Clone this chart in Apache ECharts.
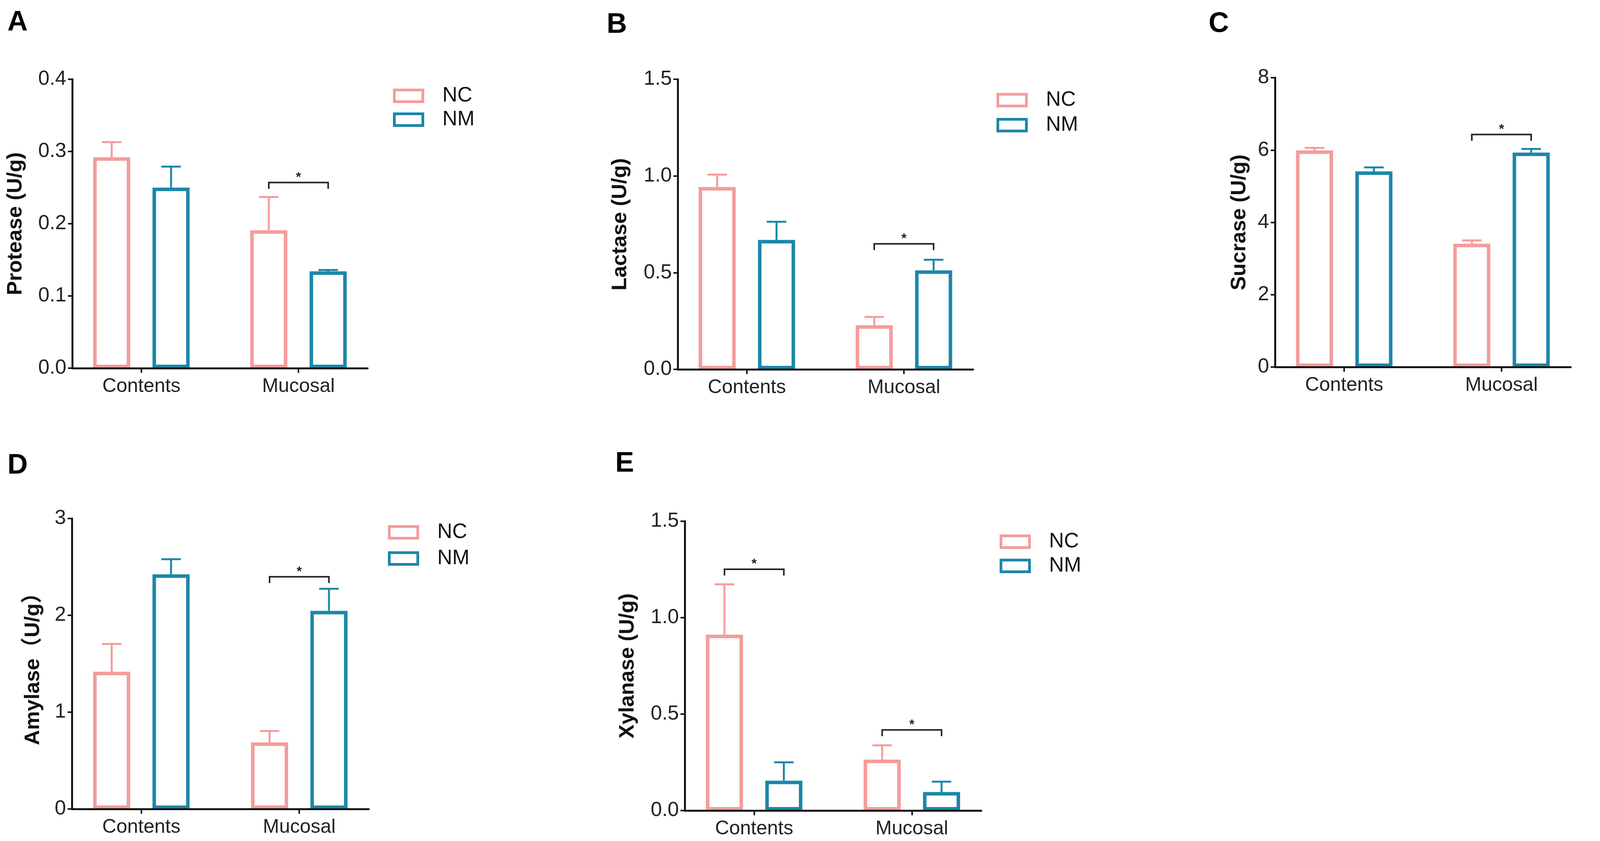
<!DOCTYPE html>
<html>
<head>
<meta charset="utf-8">
<script src="https://cdn.jsdelivr.net/npm/echarts@6/dist/echarts.min.js"></script>
<style>
html,body{margin:0;padding:0;background:#ffffff;}
#chart{width:4317px;height:2154px;}
</style>
</head>
<body>
<div id="chart"></div>
<script>
// ---------- data ----------
const categories = ['Contents', 'Mucosal'];
const groupNames = ['NC', 'NM'];
const panelLetters = ['A', 'B', 'C', 'D', 'E'];
const yTitles = ['Protease (U/g)', 'Lactase (U/g)', 'Sucrase (U/g)', 'Amylase\uFF08U/g\uFF09', 'Xylanase (U/g)'];
const yMax = [0.4, 1.5, 8, 3, 1.5];
const yInterval = [0.1, 0.5, 2, 1, 0.5];
const yDecimals = [1, 1, 0, 0, 1];

const proteaseNC = [0.292, 0.191];
const proteaseNCErr = [0.021, 0.046];
const proteaseNM = [0.250, 0.134];
const proteaseNMErr = [0.029, 0.002];

const lactaseNC = [0.943, 0.228];
const lactaseNCErr = [0.064, 0.043];
const lactaseNM = [0.669, 0.512];
const lactaseNMErr = [0.094, 0.055];

const sucraseNC = [5.99, 3.41];
const sucraseNCErr = [0.07, 0.09];
const sucraseNM = [5.41, 5.93];
const sucraseNMErr = [0.11, 0.10];

const amylaseNC = [1.417, 0.688];
const amylaseNCErr = [0.288, 0.117];
const amylaseNM = [2.423, 2.046];
const amylaseNMErr = [0.157, 0.228];

const xylanaseNC = [0.912, 0.264];
const xylanaseNCErr = [0.261, 0.074];
const xylanaseNM = [0.155, 0.096];
const xylanaseNMErr = [0.095, 0.054];

// significance brackets: [category index, bracket level in y units]
const proteaseSig = [[1, 0.257]];
const lactaseSig = [[1, 0.649]];
const sucraseSig = [[1, 6.43]];
const amylaseSig = [[1, 2.398]];
const xylanaseSig = [[0, 1.251], [1, 0.418]];

const panelData = [
  {nc: proteaseNC, ncErr: proteaseNCErr, nm: proteaseNM, nmErr: proteaseNMErr, sig: proteaseSig},
  {nc: lactaseNC, ncErr: lactaseNCErr, nm: lactaseNM, nmErr: lactaseNMErr, sig: lactaseSig},
  {nc: sucraseNC, ncErr: sucraseNCErr, nm: sucraseNM, nmErr: sucraseNMErr, sig: sucraseSig},
  {nc: amylaseNC, ncErr: amylaseNCErr, nm: amylaseNM, nmErr: amylaseNMErr, sig: amylaseSig},
  {nc: xylanaseNC, ncErr: xylanaseNCErr, nm: xylanaseNM, nmErr: xylanaseNMErr, sig: xylanaseSig}
];

// ---------- layout & style ----------
const FONT = 'Arial, "Liberation Sans", Helvetica, "Noto Sans CJK SC", sans-serif';
const PINK = '#F49C9C';
const TEAL = '#1C87A8';
const INK = '#151515';
const BAR_W = 95;
const BAR_GAP = '60%';
const HALF_SEP = 76;

const layout = [
  {left: 185, top: 203, width: 756, height: 740, lgLeft: 1001, lgTop: 214, lgGap: 8, ltX: 19, ltY: 22, nameGap: 118},
  {left: 1735, top: 203, width: 756, height: 743, lgLeft: 2546, lgTop: 225, lgGap: 11, ltX: 1553, ltY: 28, nameGap: 120},
  {left: 3264, top: 199, width: 757, height: 741, lgLeft: 4096, lgTop: 213, lgGap: 7, ltX: 3094, ltY: 26, nameGap: 64},
  {left: 184, top: 1328, width: 760, height: 744, lgLeft: 988, lgTop: 1332, lgGap: 14, ltX: 19, ltY: 1157, nameGap: 72},
  {left: 1753, top: 1335, width: 759, height: 741, lgLeft: 2554, lgTop: 1356, lgGap: 9, ltX: 1575, ltY: 1152, nameGap: 119}
];

const grid = [], xAxis = [], yAxis = [], series = [], legend = [], title = [];

function errorBarRenderer(offset, color) {
  return function (params, api) {
    const base = api.coord([api.value(0), api.value(1)]);
    const top = api.coord([api.value(0), api.value(1) + api.value(2)]);
    const x = base[0] + offset;
    return {
      type: 'group',
      children: [
        {type: 'line', shape: {x1: x, y1: base[1], x2: x, y2: top[1]}, style: {stroke: color, lineWidth: 5}},
        {type: 'line', shape: {x1: x - 25, y1: top[1], x2: x + 25, y2: top[1]}, style: {stroke: color, lineWidth: 5}}
      ]
    };
  };
}

function bracketRenderer(params, api) {
  const p = api.coord([api.value(0), api.value(1)]);
  const x1 = p[0] - HALF_SEP, x2 = p[0] + HALF_SEP, y = p[1];
  return {
    type: 'group',
    children: [
      {type: 'polyline', shape: {points: [[x1, y + 16], [x1, y], [x2, y], [x2, y + 16]]},
       style: {stroke: '#222', lineWidth: 4, fill: null}},
      {type: 'text', x: p[0], y: y + 4,
       style: {text: '*', fontSize: 34, fontFamily: FONT, fontWeight: 'bold', fill: '#222', align: 'center', verticalAlign: 'bottom'}}
    ]
  };
}

layout.forEach((L, i) => {
  const d = panelData[i];
  grid.push({left: L.left, top: L.top, width: L.width, height: L.height, containLabel: false});
  xAxis.push({
    type: 'value', gridIndex: i, min: -0.44, max: 1.44, z: 10,
    splitLine: {show: false},
    axisLine: {show: true, onZero: false, lineStyle: {color: INK, width: 5}},
    axisTick: {show: true, customValues: [0, 1], length: 12, lineStyle: {color: INK, width: 4}},
    axisLabel: {show: true, customValues: [0, 1], formatter: v => categories[Math.round(v)],
      fontSize: 50, margin: 22, color: '#222', fontFamily: FONT}
  });
  yAxis.push({
    type: 'value', gridIndex: i, min: 0, max: yMax[i], interval: yInterval[i], z: 10,
    name: yTitles[i], nameLocation: 'middle', nameGap: L.nameGap, nameRotate: 90,
    nameTextStyle: {fontSize: 54, fontWeight: 'bold', color: '#111', fontFamily: FONT},
    splitLine: {show: false},
    axisLine: {show: true, onZero: false, lineStyle: {color: INK, width: 5}},
    axisTick: {show: true, length: 11, lineStyle: {color: INK, width: 4}},
    axisLabel: {fontSize: 52, margin: 15, color: '#222', fontFamily: FONT,
      formatter: v => v.toFixed(yDecimals[i])}
  });
  series.push({
    type: 'bar', name: groupNames[0], xAxisIndex: i, yAxisIndex: i,
    data: d.nc.map((v, k) => [k, v]), barWidth: BAR_W, barGap: BAR_GAP, z: 2, silent: true,
    itemStyle: {color: '#ffffff', borderColor: PINK, borderWidth: 9}
  });
  series.push({
    type: 'bar', name: groupNames[1], xAxisIndex: i, yAxisIndex: i,
    data: d.nm.map((v, k) => [k, v]), barWidth: BAR_W, barGap: BAR_GAP, z: 2, silent: true,
    itemStyle: {color: '#ffffff', borderColor: TEAL, borderWidth: 9}
  });
  series.push({
    type: 'custom', name: 'NC-err', xAxisIndex: i, yAxisIndex: i, z: 3, silent: true,
    data: d.nc.map((v, k) => [k, v, d.ncErr[k]]), renderItem: errorBarRenderer(-HALF_SEP, PINK)
  });
  series.push({
    type: 'custom', name: 'NM-err', xAxisIndex: i, yAxisIndex: i, z: 3, silent: true,
    data: d.nm.map((v, k) => [k, v, d.nmErr[k]]), renderItem: errorBarRenderer(HALF_SEP, TEAL)
  });
  series.push({
    type: 'custom', name: 'sig', xAxisIndex: i, yAxisIndex: i, z: 4, silent: true,
    data: d.sig, renderItem: bracketRenderer
  });
  legend.push({
    orient: 'vertical', left: L.lgLeft, top: L.lgTop, itemGap: L.lgGap,
    itemWidth: 73, itemHeight: 30, icon: 'rect', data: groupNames, selectedMode: false,
    itemStyle: {borderWidth: 7},
    textStyle: {fontSize: 53, color: '#111', fontFamily: FONT, padding: [0, 0, 0, 45]}
  });
  title.push({
    text: panelLetters[i], left: L.ltX, top: L.ltY, padding: 0,
    textStyle: {fontSize: 72, fontWeight: 'bold', color: '#000', fontFamily: FONT}
  });
});

const chart = echarts.init(document.getElementById('chart'), null, {renderer: 'canvas'});
chart.setOption({
  backgroundColor: '#ffffff',
  animation: false,
  title, legend, grid, xAxis, yAxis, series
});
</script>
</body>
</html>
